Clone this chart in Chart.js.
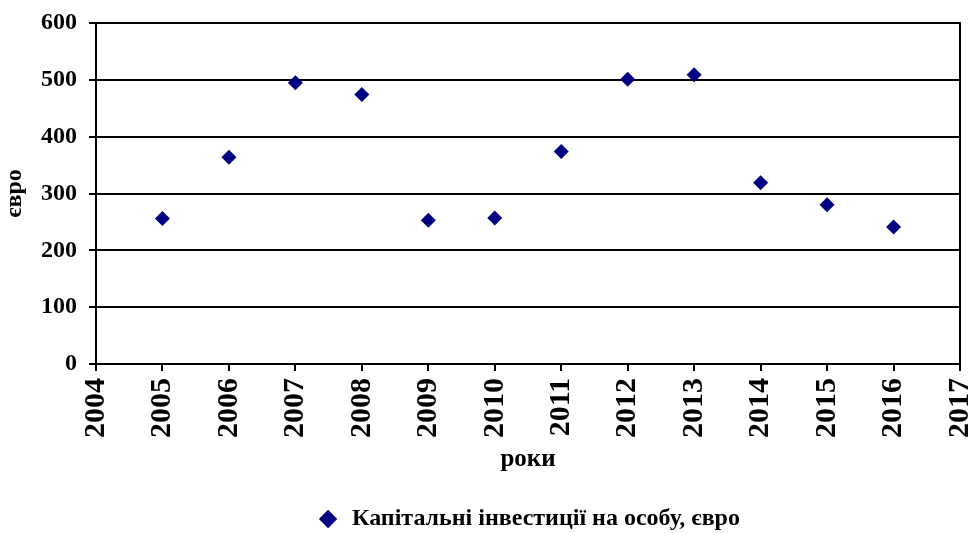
<!DOCTYPE html>
<html>
<head>
<meta charset="utf-8">
<script src="https://cdn.jsdelivr.net/npm/chart.js@4/dist/chart.umd.min.js"></script>
<style>
  html, body { margin: 0; padding: 0; background: #fff; }
  #wrap { width: 969px; height: 533px; }
</style>
</head>
<body>
<div id="wrap"><canvas id="chart"></canvas></div>
<script>
// дані з графіка
const years = [2005, 2006, 2007, 2008, 2009, 2010, 2011, 2012, 2013, 2014, 2015, 2016];
const invest = [256, 364, 495, 474, 253, 257, 374, 501, 509, 319, 280, 241];
const seriesName = 'Капітальні інвестиції на особу, євро';
const yTitle = 'євро';
const xTitle = 'роки';

const FONT = '"Liberation Serif", "Times New Roman", serif';

// рамка навколо області графіка
const frame = {
    id: 'frame',
    afterDatasetsDraw(chart) {
        const a = chart.chartArea;
        const ctx = chart.ctx;
        ctx.save();
        ctx.strokeStyle = '#000';
        ctx.lineWidth = 2;
        ctx.strokeRect(a.left, a.top, a.right - a.left, a.bottom - a.top);
        ctx.restore();
    }
};

new Chart(document.getElementById('chart'), {
    type: 'scatter',
    data: {
        datasets: [{
            label: seriesName,
            data: years.map((y, i) => ({ x: y, y: invest[i] })),
            pointStyle: 'rectRot',
            pointRadius: 7.5,
            backgroundColor: '#000080',
            borderColor: '#000080',
            borderWidth: 0
        }]
    },
    options: {
        responsive: true,
        maintainAspectRatio: false,
        animation: false,
        layout: { padding: { top: 23, right: 9, left: 0, bottom: -8 } },
        plugins: {
            tooltip: { enabled: false },
            legend: {
                position: 'bottom',
                fullSize: false,
                labels: {
                    usePointStyle: true,
                    boxHeight: 13,
                    padding: 3,
                    color: '#000',
                    font: { family: FONT, size: 24, weight: 'bold' }
                }
            }
        },
        scales: {
            x: {
                type: 'linear',
                min: 2004,
                max: 2017,
                afterFit: s => { s.height = 140; s.paddingLeft = 0; s.paddingRight = 0; },
                ticks: {
                    stepSize: 1,
                    minRotation: 90,
                    maxRotation: 90,
                    padding: 7,
                    color: '#000',
                    font: { family: FONT, size: 30, weight: 'bold' },
                    callback: v => String(v)
                },
                grid: { drawOnChartArea: false, color: '#000', lineWidth: 2, tickLength: 7 },
                border: { color: '#000', width: 2 },
                title: {
                    display: true,
                    text: xTitle,
                    color: '#000',
                    padding: { top: 8, bottom: 29 },
                    font: { family: FONT, size: 25, weight: 'bold' }
                }
            },
            y: {
                min: 0,
                max: 600,
                afterFit: s => { s.width = 96; s.paddingTop = 0; s.paddingBottom = 0; },
                ticks: {
                    stepSize: 100,
                    padding: 12,
                    color: '#000',
                    font: { family: FONT, size: 24, weight: 'bold' }
                },
                grid: { color: '#000', lineWidth: 2, tickLength: 7 },
                border: { color: '#000', width: 2 },
                title: {
                    display: true,
                    text: yTitle,
                    color: '#000',
                    padding: 0,
                    font: { family: FONT, size: 24, weight: 'bold' }
                }
            }
        }
    },
    plugins: [frame]
});
</script>
</body>
</html>
